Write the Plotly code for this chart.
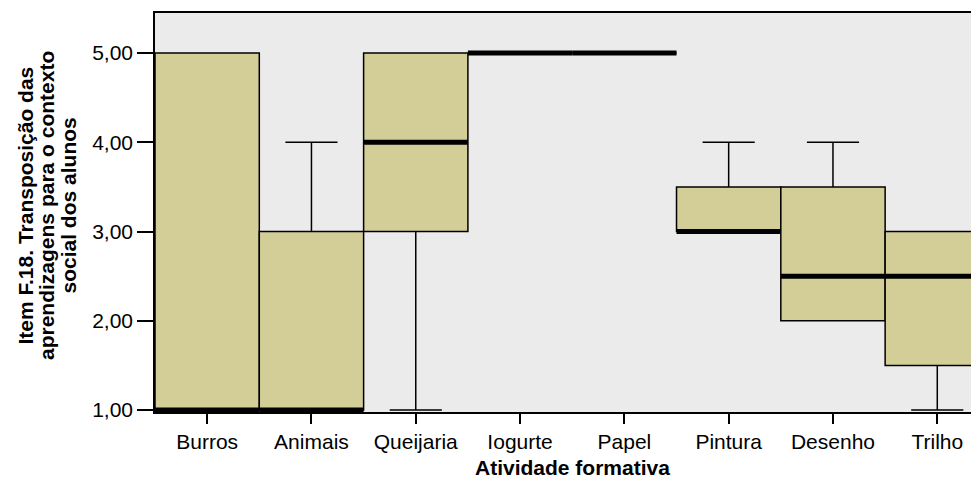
import plotly.graph_objects as go

# categorias (atividade formativa) e estatísticas das caixas
categorias = ["Burros", "Animais", "Queijaria", "Iogurte", "Papel", "Pintura", "Desenho", "Trilho"]
q1 = [1.0, 1.0, 3.0, 5.0, 5.0, 3.0, 2.0, 1.5]
mediana = [1.0, 1.0, 4.0, 5.0, 5.0, 3.0, 2.5, 2.5]
q3 = [5.0, 3.0, 5.0, 5.0, 5.0, 3.5, 3.5, 3.0]
lim_inf = [1.0, 1.0, 1.0, 5.0, 5.0, 3.0, 2.0, 1.0]
lim_sup = [5.0, 4.0, 5.0, 5.0, 5.0, 4.0, 4.0, 3.0]

y_ticks = [1, 2, 3, 4, 5]
y_labels = ["1,00", "2,00", "3,00", "4,00", "5,00"]
titulo_y = ["Item F.18. Transposição das", "aprendizagens para o contexto", "social dos alunos"]

pos = list(range(len(categorias)))
fonte = "Liberation Sans, Arial, sans-serif"

fig = go.Figure()

fig.add_trace(go.Box(
    x=pos, q1=q1, median=mediana, q3=q3,
    lowerfence=lim_inf, upperfence=lim_sup,
    width=1, whiskerwidth=0.5,
    fillcolor="#D3CE98",
    line=dict(color="black", width=1.5),
    boxpoints=False, hoverinfo="skip", showlegend=False,
))

# linha da mediana mais grossa (como no SPSS)
mx, my = [], []
for i, m in zip(pos, mediana):
    mx += [i - 0.5, i + 0.5, None]
    my += [m, m, None]
fig.add_trace(go.Scatter(x=mx, y=my, mode="lines",
                         line=dict(color="black", width=5),
                         hoverinfo="skip", showlegend=False))

# título do eixo y: uma anotação por linha para controlar o espaçamento
anot = []
for k, linha in enumerate(titulo_y):
    anot.append(dict(text="<b>" + linha + "</b>",
                     xref="paper", yref="paper", x=0, y=0.5,
                     xshift=-130 + k * 21.5, yshift=7,
                     xanchor="center", yanchor="middle", textangle=-90,
                     showarrow=False, font=dict(size=21)))
anot.append(dict(text="<b>Atividade formativa</b>",
                 xref="paper", yref="paper", x=0.507, y=0, yshift=-55,
                 xanchor="center", yanchor="middle", showarrow=False,
                 font=dict(size=21)))

# a página tem 8px de margem no body -> figura um pouco menor
fig.update_layout(
    width=971, height=474,
    margin=dict(l=147, r=0, t=5, b=70),
    paper_bgcolor="white",
    plot_bgcolor="#EBEBEB",
    font=dict(family=fonte, size=21, color="black"),
    xaxis=dict(
        range=[-0.5, 7.40], tickmode="array", tickvals=pos, ticktext=categorias,
        showgrid=False, zeroline=False, showline=True, linecolor="black", linewidth=1.5,
        mirror=True, ticks="outside", ticklen=10, tickwidth=1.5, tickcolor="black",
        tickfont=dict(size=21), automargin=False,
    ),
    yaxis=dict(
        range=[0.978, 5.448], tickmode="array", tickvals=y_ticks, ticktext=y_labels,
        showgrid=False, zeroline=False, showline=True, linecolor="black", linewidth=1.5,
        ticks="outside", ticklen=16, tickwidth=1.5, tickcolor="black",
        tickfont=dict(size=21), automargin=False,
    ),
    annotations=anot,
)

fig.write_html("out.html")
